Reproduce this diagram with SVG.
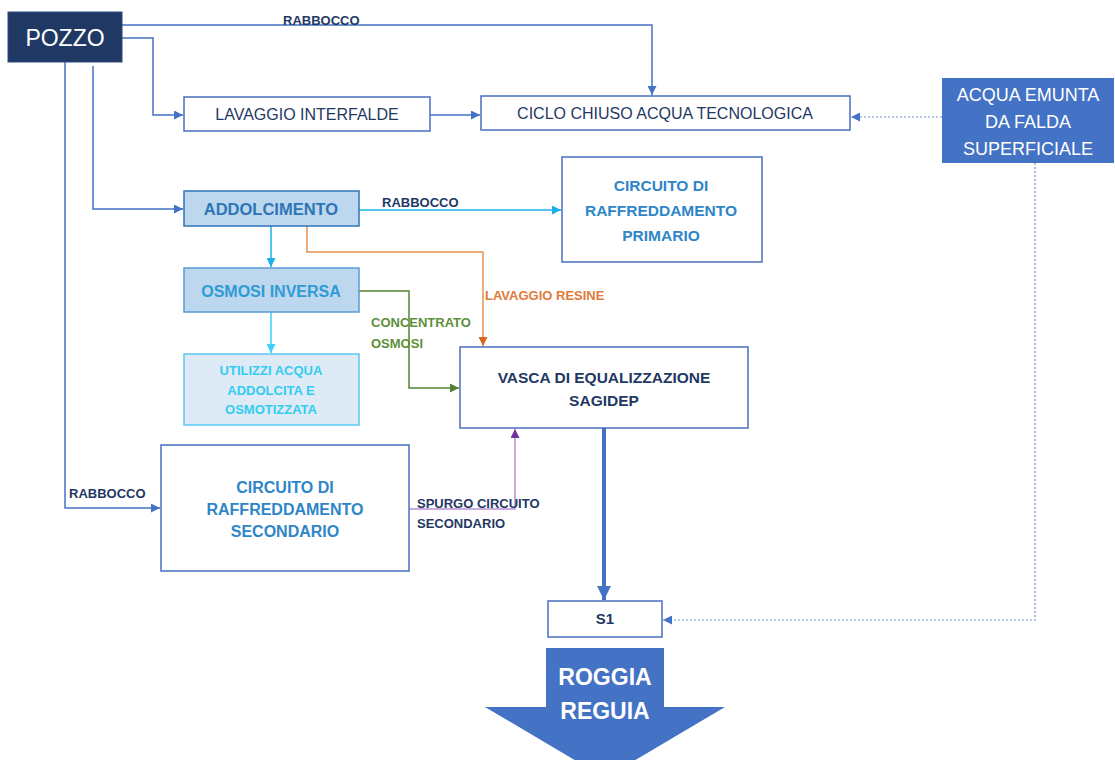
<svg xmlns="http://www.w3.org/2000/svg" width="1115" height="760" viewBox="0 0 1115 760">
<defs>
<marker id="ab" viewBox="0 0 10 10" refX="10" refY="5" markerWidth="9" markerHeight="9" markerUnits="userSpaceOnUse" orient="auto"><path d="M0,0 L10,5 L0,10 z" fill="#4472c4"/></marker>
<marker id="ac" viewBox="0 0 10 10" refX="10" refY="5" markerWidth="9" markerHeight="9" markerUnits="userSpaceOnUse" orient="auto"><path d="M0,0 L10,5 L0,10 z" fill="#1ab0e8"/></marker>
<marker id="al" viewBox="0 0 10 10" refX="10" refY="5" markerWidth="9" markerHeight="9" markerUnits="userSpaceOnUse" orient="auto"><path d="M0,0 L10,5 L0,10 z" fill="#3fd0f5"/></marker>
<marker id="ao" viewBox="0 0 10 10" refX="10" refY="5" markerWidth="9" markerHeight="9" markerUnits="userSpaceOnUse" orient="auto"><path d="M0,0 L10,5 L0,10 z" fill="#d2691e"/></marker>
<marker id="ag" viewBox="0 0 10 10" refX="10" refY="5" markerWidth="9" markerHeight="9" markerUnits="userSpaceOnUse" orient="auto"><path d="M0,0 L10,5 L0,10 z" fill="#548235"/></marker>
<marker id="ap" viewBox="0 0 10 10" refX="10" refY="5" markerWidth="9" markerHeight="9" markerUnits="userSpaceOnUse" orient="auto"><path d="M0,0 L10,5 L0,10 z" fill="#7030a0"/></marker>
<marker id="at" viewBox="0 0 10 10" refX="10" refY="5" markerWidth="14" markerHeight="14" markerUnits="userSpaceOnUse" orient="auto"><path d="M0,0 L10,5 L0,10 z" fill="#4472c4"/></marker>
</defs>
<style>
.box{fill:#ffffff;stroke:#4a6fbf;stroke-width:1.5}
.t{font-family:"Liberation Sans",Arial,sans-serif;text-anchor:middle}
.s{font-family:"Liberation Sans",Arial,sans-serif;text-anchor:start}
.b{font-weight:bold}
.nv{fill:#1f3864}
.c{fill:none;stroke-width:1.5}
.blue{stroke:#4472c4}
.dot{fill:none;stroke:#6f93d6;stroke-width:1.2;stroke-dasharray:2 2}
</style>
<rect width="1115" height="760" fill="#ffffff"/>

<g id="connectors">
<path class="c blue" d="M122,25 H652 V95" marker-end="url(#ab)"/>
<path class="c blue" d="M122,38 H153 V115 H183" marker-end="url(#ab)"/>
<path class="c blue" d="M430,115 H480" marker-end="url(#ab)"/>
<path class="c blue" d="M93,66 V209 H183" marker-end="url(#ab)"/>
<path class="c blue" d="M65,62 V508 H160" marker-end="url(#ab)"/>
<path class="dot" d="M942,117 H851" marker-end="url(#ab)"/>
<path class="dot" d="M1035,163 V620 H663" marker-end="url(#ab)"/>
<path class="c" stroke="#1ab0e8" d="M359,210 H561" marker-end="url(#ac)"/>
<path class="c" stroke="#1ab0e8" d="M271,226 V267" marker-end="url(#ac)"/>
<path class="c" stroke="#3fd0f5" d="M271,312 V353" marker-end="url(#al)"/>
<path class="c" stroke="#e8914f" d="M307,226 V252 H483 V346" marker-end="url(#ao)"/>
<path class="c" stroke="#548235" d="M359,291 H409 V388 H459" marker-end="url(#ag)"/>
<path class="c" stroke="#b792d6" d="M409,509 H515 V429" marker-end="url(#ap)"/>
<path fill="none" stroke="#4472c4" stroke-width="4" d="M604,428 V600" marker-end="url(#at)"/>
<text class="s b nv" x="283" y="25" font-size="13">RABBOCCO</text>
<text class="s b nv" x="382" y="207" font-size="13">RABBOCCO</text>
<text class="s b" x="485" y="300" font-size="13" fill="#e07b39">LAVAGGIO RESINE</text>
<text class="s b" x="371" y="327" font-size="13" fill="#5e8f3a">CONCENTRATO</text>
<text class="s b" x="371" y="348" font-size="13" fill="#5e8f3a">OSMOSI</text>
<text class="s b nv" x="417" y="508" font-size="13">SPURGO CIRCUITO</text>
<text class="s b nv" x="417" y="528" font-size="13">SECONDARIO</text>
<text class="s b nv" x="69" y="498" font-size="13">RABBOCCO</text>
</g>

<g id="pozzo">
<rect x="8" y="12" width="114" height="50" fill="#1f3864" stroke="#2f4b7c" stroke-width="1"/>
<text class="t" x="65" y="46" font-size="23" fill="#ffffff">POZZO</text>
</g>

<g id="lavaggio-interfalde">
<rect class="box" x="184" y="97" width="246" height="34"/>
<text class="t nv" x="307" y="120" font-size="16" fill="#1f3864">LAVAGGIO INTERFALDE</text>
</g>

<g id="ciclo-chiuso">
<rect class="box" x="481" y="96" width="369" height="34"/>
<text class="t" x="665" y="119" font-size="16" fill="#1f3864">CICLO CHIUSO ACQUA TECNOLOGICA</text>
</g>

<g id="acqua-emunta">
<rect x="942" y="78" width="172" height="85" fill="#4472c4"/>
<text class="t" x="1028" y="101" font-size="18" fill="#ffffff">ACQUA EMUNTA</text>
<text class="t" x="1028" y="128" font-size="18" fill="#ffffff">DA FALDA</text>
<text class="t" x="1028" y="155" font-size="18" fill="#ffffff">SUPERFICIALE</text>
</g>

<g id="addolcimento">
<rect x="184" y="191" width="175" height="35" fill="#bdd7ee" stroke="#2e75b6" stroke-width="1.5"/>
<text class="t b" x="271" y="215" font-size="16.5" fill="#2e75b6">ADDOLCIMENTO</text>
</g>

<g id="circuito-primario">
<rect class="box" x="562" y="157" width="200" height="105"/>
<text class="t b" x="661" y="191" font-size="15.5" fill="#2e86c8">CIRCUITO DI</text>
<text class="t b" x="661" y="216" font-size="15.5" fill="#2e86c8">RAFFREDDAMENTO</text>
<text class="t b" x="661" y="241" font-size="15.5" fill="#2e86c8">PRIMARIO</text>
</g>

<g id="osmosi-inversa">
<rect x="184" y="268" width="175" height="44" fill="#bdd7ee" stroke="#5b9bd5" stroke-width="1.5"/>
<text class="t b" x="271" y="297" font-size="16" fill="#2e9bd6">OSMOSI INVERSA</text>
</g>

<g id="utilizzi">
<rect x="184" y="354" width="175" height="71" fill="#deebf7" stroke="#5bc8f0" stroke-width="1.5"/>
<text class="t b" x="271" y="375" font-size="13" fill="#33ccf0">UTILIZZI ACQUA</text>
<text class="t b" x="271" y="395" font-size="13" fill="#33ccf0">ADDOLCITA E</text>
<text class="t b" x="271" y="414" font-size="13" fill="#33ccf0">OSMOTIZZATA</text>
</g>

<g id="vasca">
<rect class="box" x="460" y="347" width="288" height="81"/>
<text class="t b" x="604" y="383" font-size="15.5" fill="#1f3864">VASCA DI EQUALIZZAZIONE</text>
<text class="t b" x="604" y="406" font-size="15.5" fill="#1f3864">SAGIDEP</text>
</g>

<g id="circuito-secondario">
<rect class="box" x="161" y="445" width="248" height="126"/>
<text class="t b" x="285" y="493" font-size="16" fill="#2e86c8">CIRCUITO DI</text>
<text class="t b" x="285" y="515" font-size="16" fill="#2e86c8">RAFFREDDAMENTO</text>
<text class="t b" x="285" y="537" font-size="16" fill="#2e86c8">SECONDARIO</text>
</g>

<g id="s1">
<rect class="box" x="548" y="601" width="114" height="36"/>
<text class="t b" x="605" y="624" font-size="15" fill="#1f3864">S1</text>
</g>

<g id="roggia-reguia">
<polygon points="546,648 664,648 664,707 725,707 605,778 485,707 546,707" fill="#4472c4"/>
<text class="t b" x="605" y="685" font-size="23" fill="#ffffff">ROGGIA</text>
<text class="t b" x="605" y="719" font-size="23" fill="#ffffff">REGUIA</text>
</g>
</svg>
